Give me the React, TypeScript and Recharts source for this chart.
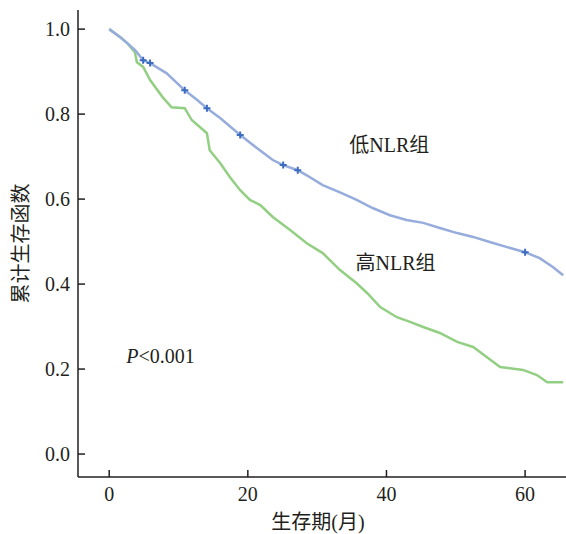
import React from "react";
import {
  ComposedChart,
  Line,
  Scatter,
  XAxis,
  YAxis,
  ReferenceDot,
} from "recharts";

// 低NLR组 (low NLR group) Kaplan–Meier readings
const lowTime = [0, 1.6, 2.6, 3.7, 4.9, 5.9, 8.3, 10.9, 12.7, 14.1, 16.0, 18.9, 21.3, 23.6, 25.1, 27.2, 28.5, 30.8, 33.3, 35.7, 38.0, 40.5, 42.9, 45.3, 47.7, 50.2, 52.5, 54.9, 57.4, 60.0, 62.1, 64.0, 65.5];
const lowSurv = [1.0, 0.981, 0.967, 0.951, 0.927, 0.92, 0.896, 0.856, 0.833, 0.814, 0.791, 0.751, 0.72, 0.692, 0.68, 0.668, 0.656, 0.633, 0.616, 0.598, 0.579, 0.562, 0.551, 0.544, 0.532, 0.52, 0.511, 0.499, 0.487, 0.475, 0.461, 0.44, 0.421];

// 高NLR组 (high NLR group)
const highTime = [0, 1.6, 2.6, 3.7, 4.0, 4.9, 5.9, 7.7, 9.0, 10.9, 11.9, 14.1, 14.5, 16.0, 17.4, 18.9, 20.3, 21.8, 23.6, 26.1, 28.5, 30.8, 33.3, 35.7, 37.2, 39.1, 41.5, 43.4, 45.3, 47.7, 50.2, 52.5, 54.5, 56.4, 59.7, 61.7, 63.2, 65.5];
const highSurv = [1.0, 0.981, 0.967, 0.946, 0.922, 0.911, 0.88, 0.84, 0.816, 0.814, 0.786, 0.755, 0.715, 0.685, 0.652, 0.621, 0.598, 0.586, 0.558, 0.527, 0.496, 0.473, 0.433, 0.402, 0.379, 0.346, 0.322, 0.311, 0.299, 0.285, 0.264, 0.252, 0.228, 0.205, 0.198, 0.186, 0.169, 0.169];

// censor marks on the low group
const censorTime = [4.9, 5.9, 10.9, 14.1, 18.9, 25.1, 27.2, 60.0];

const xTicks = [0, 20, 40, 60];
const yTicks = [0, 0.2, 0.4, 0.6, 0.8, 1.0];

const lowData = lowTime.map((t, i) => ({ t, s: lowSurv[i] }));
const highData = highTime.map((t, i) => ({ t, s: highSurv[i] }));
const censorData = censorTime.map((t) => ({ t, s: lowSurv[lowTime.indexOf(t)] }));

const FONT = "'Liberation Serif', 'Times New Roman', 'DejaVu Serif', 'Noto Sans CJK SC', serif";
const INK = "#231f20";

const XTick = (props: any) => {
  const { x, y, payload } = props;
  return (
    <g>
      <line x1={x} x2={x} y1={y - 8} y2={y - 15} stroke={INK} strokeWidth={1.5} />
      <text x={x} y={y + 16} textAnchor="middle" style={{ fontFamily: FONT }} fontSize={20} fill={INK}>
        {payload.value}
      </text>
    </g>
  );
};

const YTick = (props: any) => {
  const { x, y, payload } = props;
  return (
    <g>
      <line x1={x + 8} x2={x + 15} y1={y} y2={y} stroke={INK} strokeWidth={1.5} />
      <text x={x} y={y + 7} textAnchor="end" style={{ fontFamily: FONT }} fontSize={20} fill={INK}>
        {Number(payload.value).toFixed(1)}
      </text>
    </g>
  );
};

const Plus = (props: any) => {
  const { cx, cy } = props;
  return (
    <path
      d={`M${cx - 3.5},${cy}h7M${cx},${cy - 3.5}v7`}
      stroke="#3c6cc0"
      strokeWidth={2}
      fill="none"
    />
  );
};

const makeLabel = (content: React.ReactNode) => (props: any) => {
  const vb = props.viewBox || {};
  const cx = (vb.x ?? 0) + (vb.width ?? 0) / 2;
  const cy = (vb.y ?? 0) + (vb.height ?? 0) / 2;
  return (
    <text
      x={cx}
      y={cy + 7}
      textAnchor="middle"
      style={{ fontFamily: FONT }}
      fontSize={20}
      fill={INK}
    >
      {content}
    </text>
  );
};

export default function App() {
  return (
    <div style={{ position: "absolute", left: 0, top: 0, background: "#fff" }}>
      <ComposedChart
        width={566}
        height={534}
        margin={{ top: 10, right: 0, bottom: 0, left: 0 }}
      >
        <XAxis
          type="number"
          dataKey="t"
          domain={[-4.5, 65.9]}
          ticks={xTicks}
          allowDataOverflow
          height={57}
          axisLine={{ stroke: INK, strokeWidth: 1.5 }}
          tickLine={false}
          tick={<XTick />}
          label={{
            value: "生存期(月)",
            position: "insideBottom",
            offset: 5,
            dx: -4,
            style: { fontFamily: FONT, fontSize: 20, fill: INK },
          }}
        />
        <YAxis
          type="number"
          dataKey="s"
          domain={[-0.054, 1.045]}
          ticks={yTicks}
          allowDataOverflow
          width={78}
          axisLine={{ stroke: INK, strokeWidth: 1.5 }}
          tickLine={false}
          tick={<YTick />}
          label={{
            value: "累计生存函数",
            angle: -90,
            position: "center",
            dx: -18,
            style: { fontFamily: FONT, fontSize: 20, fill: INK },
          }}
        />
        <Line
          data={highData}
          dataKey="s"
          type="linear"
          stroke="#93cf83"
          strokeWidth={2.5}
          dot={false}
          isAnimationActive={false}
        />
        <Line
          data={lowData}
          dataKey="s"
          type="linear"
          stroke="#95acdd"
          strokeWidth={2.5}
          dot={false}
          isAnimationActive={false}
        />
        <Scatter
          data={censorData}
          dataKey="s"
          shape={<Plus />}
          isAnimationActive={false}
        />
        <ReferenceDot
          x={40.4}
          y={0.727}
          r={0}
          fill="none"
          stroke="none"
          label={{ content: makeLabel("低NLR组") }}
        />
        <ReferenceDot
          x={41.3}
          y={0.449}
          r={0}
          fill="none"
          stroke="none"
          label={{ content: makeLabel("高NLR组") }}
        />
        <ReferenceDot
          x={7.4}
          y={0.23}
          r={0}
          fill="none"
          stroke="none"
          label={{
            content: makeLabel(
              <>
                <tspan fontStyle="italic">P</tspan>
                {"<0.001"}
              </>
            ),
          }}
        />
      </ComposedChart>
    </div>
  );
}
